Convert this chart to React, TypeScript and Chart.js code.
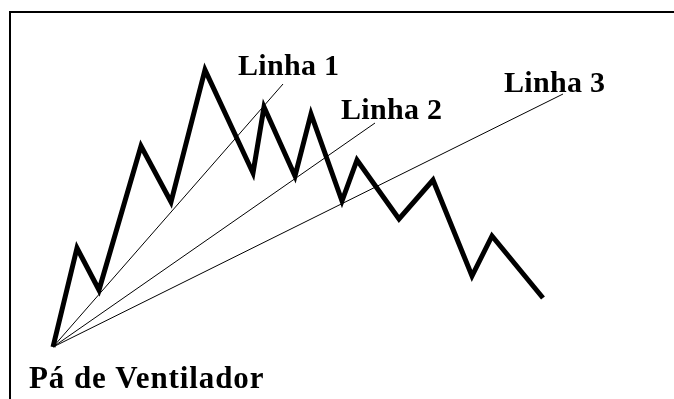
import React, { useEffect, useRef } from "react";
import { Chart, registerables } from "chart.js";

Chart.register(...registerables);

// Zigzag price path (x = time position, y = price level)
const priceX = [53, 77, 99, 141, 171, 205, 253, 264, 295, 311, 342, 357, 399, 433, 472, 492, 543];
const priceY = [52, 151, 109, 253, 197, 329, 226, 292, 223, 285, 198, 239, 180, 219, 123, 163, 101];

// Fan lines: common origin and three end points
const fanOriginX = 53;
const fanOriginY = 52;
const fanEndX = [283, 375, 563];
const fanEndY = [315, 276, 305];

// Text labels and their anchor positions (left, baseline)
const labelTexts = ["Linha 1", "Linha 2", "Linha 3", "Pá de Ventilador"];
const labelX = [238, 341, 504, 29];
const labelY = [324, 280, 307, 11];

const W = 674;
const H = 399;

export default function App() {
  const ref = useRef<HTMLCanvasElement | null>(null);

  useEffect(() => {
    const canvas = ref.current;
    if (!canvas) return;

    const framePlugin = {
      id: "frame",
      beforeDraw(chart: any) {
        const ctx = chart.ctx;
        ctx.save();
        ctx.fillStyle = "#ffffff";
        ctx.fillRect(0, 0, chart.width, chart.height);
        ctx.strokeStyle = "#000000";
        ctx.lineWidth = 2;
        ctx.beginPath();
        ctx.moveTo(9, 12);
        ctx.lineTo(chart.width, 12);
        ctx.moveTo(10, 11);
        ctx.lineTo(10, chart.height);
        ctx.stroke();
        ctx.restore();
      },
    };

    const labelPlugin = {
      id: "labels",
      afterDatasetsDraw(chart: any) {
        const ctx = chart.ctx;
        const xs = chart.scales.x;
        const ys = chart.scales.y;
        ctx.save();
        ctx.fillStyle = "#000000";
        ctx.textAlign = "left";
        ctx.textBaseline = "alphabetic";
        labelTexts.forEach((t, i) => {
          const isTitle = i === labelTexts.length - 1;
          ctx.font = `bold ${isTitle ? 31 : 30}px "Liberation Serif", "Times New Roman", serif`;
          (ctx as any).letterSpacing = isTitle ? "0.9px" : "0.3px";
          ctx.fillText(t, xs.getPixelForValue(labelX[i]), ys.getPixelForValue(labelY[i]));
        });
        ctx.restore();
      },
    };

    const fanDatasets = fanEndX.map((ex, i) => ({
      label: `Linha ${i + 1}`,
      data: [
        { x: fanOriginX, y: fanOriginY },
        { x: ex, y: fanEndY[i] },
      ],
      showLine: true,
      borderColor: "#000000",
      borderWidth: 1,
      pointRadius: 0,
      fill: false,
    }));

    const chart = new Chart(canvas, {
      type: "scatter",
      data: {
        datasets: [
          ...fanDatasets,
          {
            label: "Preço",
            data: priceX.map((x, i) => ({ x, y: priceY[i] })),
            showLine: true,
            borderColor: "#000000",
            borderWidth: 5,
            borderJoinStyle: "miter",
            borderCapStyle: "butt",
            pointRadius: 0,
            fill: false,
          } as any,
        ],
      },
      options: {
        animation: false,
        responsive: false,
        layout: { padding: 0 },
        plugins: {
          legend: { display: false },
          tooltip: { enabled: false },
        },
        scales: {
          x: { type: "linear", min: 0, max: W, display: false },
          y: { type: "linear", min: 0, max: H, display: false },
        },
      },
      plugins: [framePlugin, labelPlugin],
    });

    return () => chart.destroy();
  }, []);

  return (
    <div style={{ position: "fixed", left: 0, top: 0, width: W, height: H, background: "#fff" }}>
      <canvas ref={ref} width={W} height={H} style={{ display: "block", width: W, height: H }} />
    </div>
  );
}
